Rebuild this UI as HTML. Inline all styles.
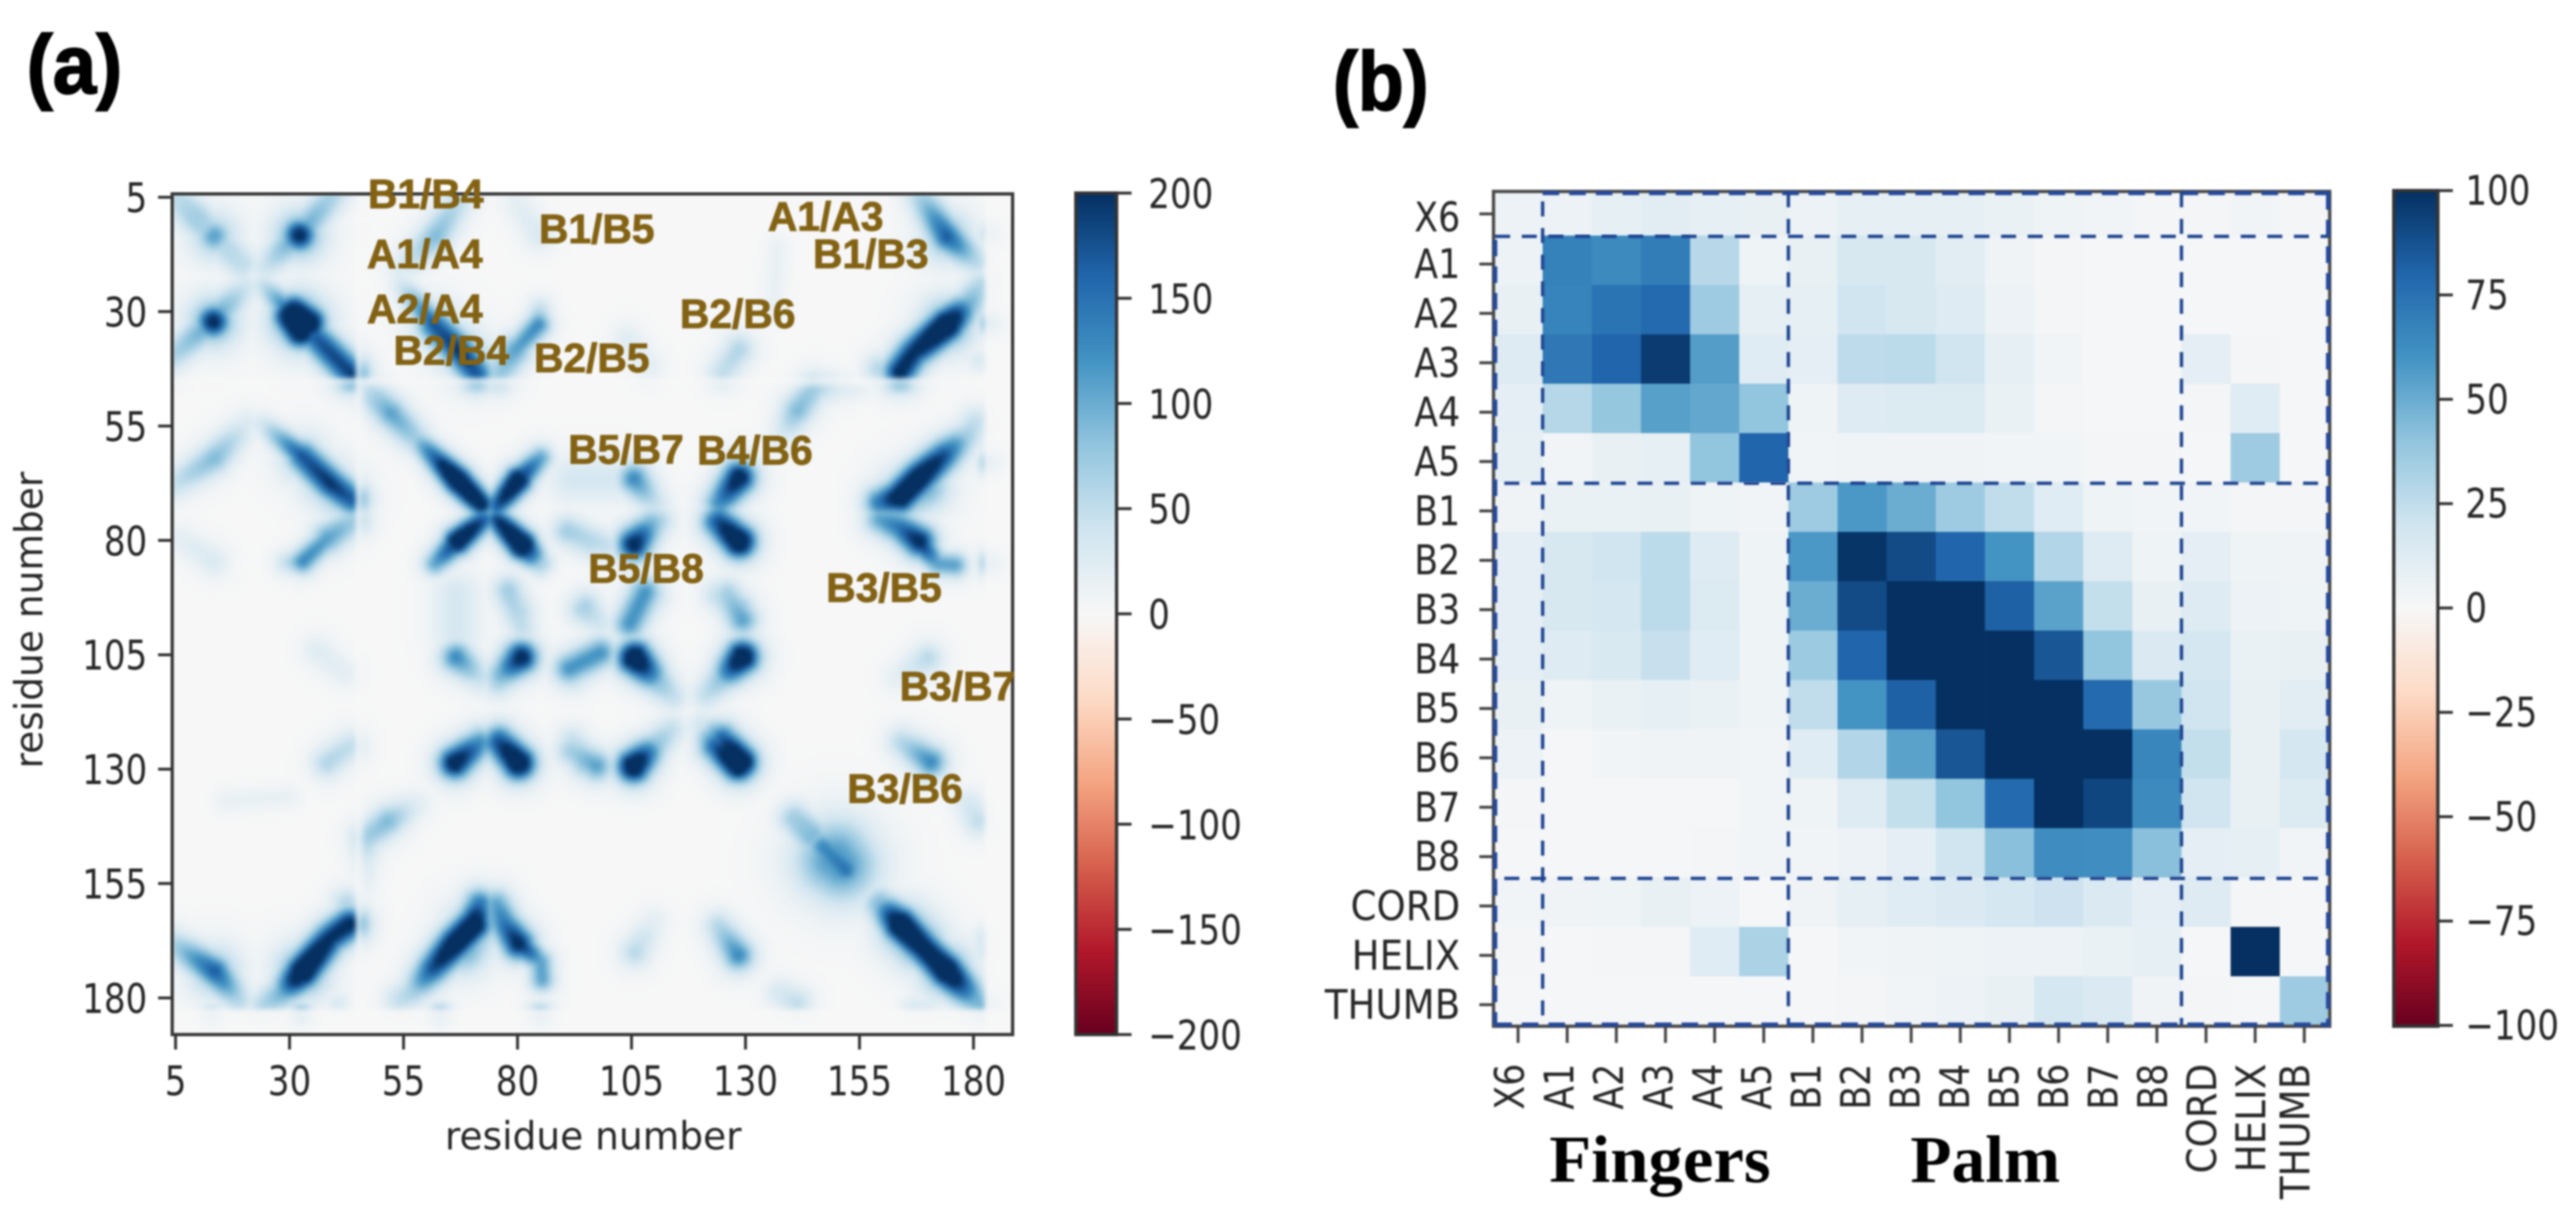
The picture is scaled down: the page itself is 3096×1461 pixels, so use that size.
<!DOCTYPE html>
<html lang="en">
<head>
<meta charset="utf-8">
<title>Residue contact maps</title>
<style>
html,body{margin:0;padding:0;background:#fff;}
#figure{position:relative;width:3096px;height:1461px;overflow:hidden;background:#fff;}
#contact-canvas{position:absolute;left:207px;top:233px;width:1010px;height:1010px;filter:blur(2px);}
#figure-svg{position:absolute;left:0;top:0;}
.soft{filter:blur(1px);}
.tick-text{font-family:"DejaVu Sans","Liberation Sans",sans-serif;font-size:41px;fill:#262626;}
.pair-text{font-family:"Liberation Sans",sans-serif;font-weight:bold;font-size:49px;fill:#836214;stroke:#836214;stroke-width:1px;}
.panel-text{font-family:"Liberation Sans",sans-serif;font-weight:bold;font-size:100px;fill:#000;stroke:#000;stroke-width:2px;}
.group-text{font-family:"Liberation Serif",serif;font-weight:bold;font-size:80px;fill:#000;}
</style>
</head>
<body>
<div id="figure">
<canvas id="contact-canvas" width="1010" height="1010"></canvas>
<svg id="figure-svg" width="3096" height="1461" viewBox="0 0 3096 1461" xmlns="http://www.w3.org/2000/svg">
<defs>
<linearGradient id="rdbu-gradient" x1="0" y1="1" x2="0" y2="0">
<stop offset="0" stop-color="#67001f"/>
<stop offset="0.1" stop-color="#b2182b"/>
<stop offset="0.2" stop-color="#d6604d"/>
<stop offset="0.3" stop-color="#f4a582"/>
<stop offset="0.4" stop-color="#fddbc7"/>
<stop offset="0.5" stop-color="#f7f7f7"/>
<stop offset="0.6" stop-color="#d1e5f0"/>
<stop offset="0.7" stop-color="#92c5de"/>
<stop offset="0.8" stop-color="#4393c3"/>
<stop offset="0.9" stop-color="#2166ac"/>
<stop offset="1" stop-color="#053061"/>
</linearGradient>
</defs>
<g id="layer-a" class="soft"></g>
<g id="layer-b-cells" class="soft"></g>
<g id="layer-b" class="soft"></g>
<text class="panel-text soft" x="32" y="112" textLength="115" lengthAdjust="spacingAndGlyphs">(a)</text>
<text class="panel-text soft" x="1602" y="132" textLength="115" lengthAdjust="spacingAndGlyphs">(b)</text>
<text class="group-text soft" x="1862" y="1420" textLength="266" lengthAdjust="spacingAndGlyphs">Fingers</text>
<text class="group-text soft" x="2296" y="1420" textLength="180" lengthAdjust="spacingAndGlyphs">Palm</text>
</svg>
</div>
<script>
/* ---------- Panel (a): residue contact features ---------- */
/* each entry: residue column A, residue row A, residue column B, residue row B, value at A, value at B */
const narrowContacts = [
  [62,62,66.7,67,170,300],[66.7,67,72,72,300,240],
  [72.5,75.5,66.8,80.2,170,300],[66.8,80.2,62,85,210,110],
  [75.5,75.5,81.3,80.8,190,300],[81.3,80.8,85.2,84.8,260,70],
  [24.3,24.3,30,30,50,160],[57.6,57.7,62,62,70,170],
  [24.3,54.7,32.9,61.7,40,180],[38.4,79.5,32.9,84.6,110,130],[32.9,84.6,29.5,84.9,130,50],
  [80.2,168.1,85.1,172,220,100],[85.1,172,85.4,176,110,110],
  [40.6,181,40.6,181,30,30],[47,146,47,156,40,15],[166.6,182,170,182,30,30],
  [16,137,30,136,15,15],
  [32.6,184,32.6,184,120,120],[63,184,63,184,100,100],[85,184,85,184,100,100],[13,184,13,184,70,70]
];
const mediumContacts = [
  [4.5,5,9,9.8,50,70],[9,9.8,19.4,20,70,50],[13.6,13.4,13.6,13.4,110,110],
  [4,40,11,34,60,100],[15,30,20,25,100,45],[13.3,32.2,13.3,32.2,220,220],
  [31,30.5,34,32.5,310,310],[34,34,38.3,38.3,160,180],[38.3,38.3,43.5,43.5,180,190],
  [46.8,47.4,52.2,52.2,50,110],[52.2,52.2,57.6,57.7,110,70],
  [32.9,61.7,38.9,67.5,170,200],[38.9,67.5,43.5,71,200,170],
  [4.4,68,13.6,62,45,90],[13.6,62,20.6,54.7,90,30],
  [44.4,75.5,38.4,79.5,70,110],[6,79.7,13.4,84.6,20,30],
  [78,91,81,99,70,50],
  [66.6,105.6,71.7,109.8,130,50],[80.8,105.6,76.6,109.3,230,100],
  [66.3,128.6,71.7,124.4,240,130],[80.2,128.6,76,123.8,290,170],
  [71.7,159.6,70.5,163.9,150,260],[70.5,163.9,66.3,168.1,270,270],[66.3,168.1,61.4,173.6,270,180],
  [61.4,173.6,57.2,178.5,180,70],[57.2,178.5,54.2,180.3,70,50],
  [75.4,159.6,77.2,163.9,110,150],[77.2,163.9,80.2,168.1,150,220],
  [43.1,163.9,38.9,166.9,220,210],[38.9,166.9,32.9,174.2,210,300],[32.9,174.2,28.3,179,300,100],
  [28.3,179,24.3,181.5,100,60],[42.5,159.5,42.5,159.5,60,60],
  [4.3,168,13.6,174.2,60,170],[13.6,174.2,18.8,180.3,170,60],
  [46.8,145,51.6,141.4,70,90],[51.6,141.4,57.7,137.8,90,25],[46.6,151,46.8,145,25,70],
  [38.3,128.6,43.2,125,60,50],[36,104,42,109,25,20],
  [105.8,67.1,110.7,71.6,100,35],[105.8,80.1,110.7,75.9,190,70],
  [128.4,66.8,124.2,71.7,220,120],[128.4,80.1,124.2,75.9,280,180],
  [92,66,98,68,25,25],[92.5,78.9,96,80.7,60,55],
  [94.5,95,98,98,65,40],[106,95.5,109.6,92,110,60],[128.5,95,124,92,90,50],[128.5,95,130,98,90,60],
  [91.4,108,98.2,104.6,120,120],[105.8,105.6,111.3,111,280,80],[111.3,111,114,114,80,50],
  [91.8,126,97.3,129.3,70,110],[105.5,129.3,110.7,124.4,280,80],[110.7,124.4,113.7,121.4,80,50],
  [128.4,128.7,123.5,125,320,170],[123.5,125,120.5,120.8,170,40],
  [105.8,170,110,163.3,55,20],[128.4,170.6,124.2,164.5,130,60],
  [140.5,140.8,144.2,145,70,90],[147,147,152,152,130,150],[137.7,179,141.3,181,35,50],
  [159.3,159.6,164.1,163.9,90,290],[164.1,163.9,168.4,168.1,290,240],[168.4,168.1,173.9,174.2,230,280],
  [173.9,174.2,180,180.3,280,100],[180,180.3,182.7,182,100,80]
];
const broadContacts = [
  [150,155,155,150,40,40],[66.6,92,66.6,100,35,35],
  [13.6,13.4,13.6,13.4,70,70],[13.3,32.2,13.3,32.2,110,110],[32,31.5,33,32.5,150,150],
  [32.9,174.2,32.9,174.2,130,130],[13.6,174.2,13.6,174.2,90,90],
  [174,174,174,174,130,130],[165,165,168,168,130,130],
  [68,169,70,165,110,110],[38,67,41,70,80,80],[33,62,33,62,70,70]
];
const diffuseContacts = [
  [149,150,151,151,115,120]
];
const contactTicks = [5,30,55,80,105,130,155,180];
const contactColorbarTicks = [200,150,100,50,0,-50,-100,-150,-200];
const pairLabels = ["B1/B4","A1/A4","A2/A4","B2/B4","B1/B5","B2/B5","B5/B7","B4/B6","B2/B6","A1/A3","B1/B3","B5/B8","B3/B5","B3/B7","B3/B6"];
const pairLabelColumns = [47.2,47,47,52.8,84.7,83.6,91.1,119.4,115.6,134.9,144.8,95.5,147.7,163.8,152.3];
const pairLabelRows = [7.4,20.5,32.5,41.6,15,43.2,63.2,63.4,33.6,12.3,20.5,89.2,93.4,115,137.3];

/* ---------- Panel (b): domain-domain matrix ---------- */
const domainLabels = ["X6","A1","A2","A3","A4","A5","B1","B2","B3","B4","B5","B6","B7","B8","CORD","HELIX","THUMB"];
const domainValues = [
  [6,6,9,11,9,8,6,9,9,9,7,5,3,2,2,3,2],
  [6,68,64,70,28,5,8,17,17,11,4,2,1,1,1,1,1],
  [8,67,74,78,36,9,9,20,17,13,6,2,1,1,1,1,1],
  [13,72,80,96,56,12,10,26,27,20,9,3,1,1,10,2,1],
  [10,29,39,55,52,40,5,13,14,14,7,2,1,1,2,12,1],
  [9,3,8,9,40,80,3,4,4,4,3,3,2,2,1,36,1],
  [4,7,7,8,5,3,36,58,50,36,25,12,5,3,3,2,2],
  [10,17,20,27,13,5,58,98,90,80,60,30,13,5,10,5,4],
  [10,17,18,27,14,5,50,90,100,100,82,54,24,8,13,6,5],
  [10,13,16,23,12,5,37,80,100,100,100,86,40,15,18,7,8],
  [8,5,7,9,7,5,25,60,82,100,100,100,78,38,20,8,11],
  [6,1,3,4,4,3,12,30,54,86,100,100,100,66,24,8,18],
  [2,1,1,1,1,3,5,13,24,40,78,100,92,64,20,8,14],
  [1,1,1,1,2,3,3,6,10,20,42,63,62,42,10,9,3],
  [3,4,5,8,6,1,4,9,12,15,18,21,15,10,13,2,1],
  [2,1,2,2,12,32,1,3,4,5,6,6,7,9,1,100,1],
  [1,1,1,1,1,1,1,2,3,6,8,18,15,4,2,1,36]
];
const domainBoundaries = [1,6,14];
const domainColorbarTicks = [100,75,50,25,0,-25,-50,-75,-100];

/* ---------- Scales ---------- */
const rdbuPalette = [[103,0,31],[178,24,43],[214,96,77],[244,165,130],[253,219,199],[247,247,247],[209,229,240],[146,197,222],[67,147,195],[33,102,172],[5,48,97]];
function rdbu(value, limit){
  let t = (Math.max(-limit, Math.min(limit, value)) + limit) / (2 * limit) * 10;
  let i = Math.min(9, Math.floor(t));
  let f = t - i;
  let a = rdbuPalette[i], b = rdbuPalette[i + 1];
  return [a[0] + (b[0] - a[0]) * f, a[1] + (b[1] - a[1]) * f, a[2] + (b[2] - a[2]) * f];
}
function contactX(r){ return 211 + (r - 5) * 5.48; }
function contactY(r){ return 237 + (r - 5) * 5.497; }
function contactBarY(v){ return 232 + (200 - v) / 400 * 1011; }
function domainColX(i){ return 1795 + 59.06 * i; }
function domainRowY(i){ return 223.7 + 59.33 * i; }
function domainBarY(v){ return 229 + (100 - v) / 200 * 1003; }

/* ---------- Panel (a) heatmap ---------- */
const gridFirst = 4, gridSize = 185;
const grid = new Float32Array(gridSize * gridSize);
function stampSegment(c1, r1, c2, r2, v1, v2, sigma){
  let reach = sigma * 5;
  let minC = Math.max(0, Math.floor(Math.min(c1, c2) - reach - gridFirst));
  let maxC = Math.min(gridSize - 1, Math.ceil(Math.max(c1, c2) + reach - gridFirst));
  let minR = Math.max(0, Math.floor(Math.min(r1, r2) - reach - gridFirst));
  let maxR = Math.min(gridSize - 1, Math.ceil(Math.max(r1, r2) + reach - gridFirst));
  let dc = c2 - c1, dr = r2 - r1, len2 = dc * dc + dr * dr;
  for (let rr = minR; rr <= maxR; rr++){
    for (let cc = minC; cc <= maxC; cc++){
      let px = cc + gridFirst, py = rr + gridFirst;
      let t = len2 > 0 ? Math.max(0, Math.min(1, ((px - c1) * dc + (py - r1) * dr) / len2)) : 0;
      let qx = c1 + dc * t, qy = r1 + dr * t;
      let d2 = (px - qx) * (px - qx) + (py - qy) * (py - qy);
      let shape = 0.8 * Math.exp(-d2 / (2 * sigma * sigma)) + 0.2 * Math.exp(-d2 / (6.5 * sigma * sigma));
      let val = (v1 + (v2 - v1) * t) * shape;
      let idx = rr * gridSize + cc;
      if (val > grid[idx]) grid[idx] = val;
    }
  }
}
function stampGroup(list, sigma){
  list.forEach(function(s){
    stampSegment(s[0], s[1], s[2], s[3], s[4], s[5], sigma);
    stampSegment(s[1], s[0], s[3], s[2], s[4], s[5], sigma);
  });
}
stampGroup(narrowContacts, 1.7);
stampGroup(mediumContacts, 2.2);
stampGroup(broadContacts, 3.4);
stampGroup(diffuseContacts, 5);
function residueDim(r){
  if (r === 45) return 0.35;
  if (r === 46) return 0.7;
  if (r >= 183) return 0.15;
  return 1;
}
const small = document.createElement('canvas');
small.width = gridSize;
small.height = gridSize;
const smallCtx = small.getContext('2d');
const smallImg = smallCtx.createImageData(gridSize, gridSize);
for (let rr = 0; rr < gridSize; rr++){
  for (let cc = 0; cc < gridSize; cc++){
    let dim = residueDim(rr + gridFirst) * residueDim(cc + gridFirst);
    let col = rdbu(grid[rr * gridSize + cc] * dim, 200);
    let o = (rr * gridSize + cc) * 4;
    smallImg.data[o] = col[0];
    smallImg.data[o + 1] = col[1];
    smallImg.data[o + 2] = col[2];
    smallImg.data[o + 3] = 255;
  }
}
smallCtx.putImageData(smallImg, 0, 0);
const contactCtx = document.getElementById('contact-canvas').getContext('2d');
contactCtx.fillStyle = '#f7f7f7';
contactCtx.fillRect(0, 0, 1010, 1010);
contactCtx.imageSmoothingEnabled = true;
contactCtx.imageSmoothingQuality = 'high';
contactCtx.drawImage(small, contactX(gridFirst - 0.5) - 207, contactY(gridFirst - 0.5) - 233, gridSize * 5.48, gridSize * 5.497);

/* ---------- SVG helpers ---------- */
const NS = 'http://www.w3.org/2000/svg';
function make(parent, tag, attrs){
  const el = document.createElementNS(NS, tag);
  for (const k in attrs) el.setAttribute(k, attrs[k]);
  parent.appendChild(el);
  return el;
}
function makeText(parent, str, x, y, anchor, rotate, sx, sy){
  const el = make(parent, 'text', {
    'class': 'tick-text',
    'text-anchor': anchor,
    transform: 'translate(' + x + ',' + y + ') rotate(' + rotate + ') scale(' + sx + ',' + sy + ')'
  });
  el.textContent = str;
  return el;
}
function formatTick(v){ return v < 0 ? '\u2212' + Math.abs(v) : String(v); }

const layerA = document.getElementById('layer-a');
const layerB = document.getElementById('layer-b');
const layerCells = document.getElementById('layer-b-cells');

/* ---------- Panel (a) axes ---------- */
const frameA = make(layerA, 'rect', {x:207, y:233, width:1010, height:1010, fill:'none', stroke:'#3a3a3a', 'stroke-width':4});


contactTicks.forEach(function(t){
  const xt = make(layerA, 'line', {x1:contactX(t), x2:contactX(t), y1:1243, y2:1261, stroke:'#333', 'stroke-width':3.5});
  
  
  const xl = makeText(layerA, String(t), contactX(t), 1316, 'middle', 0, 1, 1.2);
  
  
  const yt = make(layerA, 'line', {x1:190, x2:207, y1:contactY(t), y2:contactY(t), stroke:'#333', 'stroke-width':3.5});
  
  
  const yl = makeText(layerA, String(t), 177, contactY(t) + 18, 'end', 0, 1, 1.2);
  
  
});
const xTitle = makeText(layerA, 'residue number', 713, 1381, 'middle', 0, 1.1, 1.12);


const yTitle = makeText(layerA, 'residue number', 51, 745, 'middle', -90, 1.1, 1.12);


pairLabels.forEach(function(label, i){
  const el = make(layerA, 'text', {'class':'pair-text', x:contactX(pairLabelColumns[i]), y:contactY(pairLabelRows[i])});
  el.textContent = label;
  
  
});
const barA = make(layerA, 'rect', {x:1293, y:232, width:49, height:1011, fill:'url(#rdbu-gradient)', stroke:'#333', 'stroke-width':4});


contactColorbarTicks.forEach(function(v){
  const t = make(layerA, 'line', {x1:1342, x2:1360, y1:contactBarY(v), y2:contactBarY(v), stroke:'#333', 'stroke-width':3.5});
  
  
  const l = makeText(layerA, formatTick(v), 1380, contactBarY(v) + 18, 'start', 0, 1, 1.2);
  
  
});

/* ---------- Panel (b) heatmap ---------- */
domainValues.forEach(function(row, r){
  row.forEach(function(v, c){
    const c0 = rdbu(v, 100);
    const top = Math.max(230, domainRowY(r));
    const cell = make(layerCells, 'rect', {
      x: domainColX(c), y: top,
      width: 59.4, height: domainRowY(r + 1) - top + 0.4,
      fill: 'rgb(' + Math.round(c0[0]) + ',' + Math.round(c0[1]) + ',' + Math.round(c0[2]) + ')'
    });
    
    
  });
});
const frameB = make(layerB, 'rect', {x:1795, y:230, width:1005, height:1003, fill:'none', stroke:'#4a4a4a', 'stroke-width':4});


const edgeTop = make(layerB, 'line', {x1:1854, x2:2800, y1:232, y2:232, stroke:'#26499a', 'stroke-width':5, 'stroke-dasharray':'20 12'});


const edgeLeft = make(layerB, 'line', {x1:1797, x2:1797, y1:288, y2:1232, stroke:'#26499a', 'stroke-width':5, 'stroke-dasharray':'20 12'});


const edgeRight = make(layerB, 'line', {x1:2798, x2:2798, y1:232, y2:1232, stroke:'#26499a', 'stroke-width':5, 'stroke-dasharray':'20 12'});


const edgeBottom = make(layerB, 'line', {x1:1797, x2:2800, y1:1231, y2:1231, stroke:'#26499a', 'stroke-width':5, 'stroke-dasharray':'20 12'});


domainBoundaries.forEach(function(i){
  const v = make(layerB, 'line', {x1:domainColX(i), x2:domainColX(i), y1:(i === 1 ? 242 : 231), y2:1232, stroke:'#1f4592', 'stroke-width':4, 'stroke-dasharray':'18 14'});
  
  
  const h = make(layerB, 'line', {x1:(i === 1 ? 1797 : 1808), x2:2798, y1:domainRowY(i) + 1, y2:domainRowY(i) + 1, stroke:'#1f4592', 'stroke-width':4, 'stroke-dasharray':'18 14'});
  
  
});
domainLabels.forEach(function(label, i){
  const cx = domainColX(i) + 29.5;
  const xt = make(layerB, 'line', {x1:cx, x2:cx, y1:1233, y2:1253, stroke:'#444', 'stroke-width':3.5});
  
  
  const stretch = label.length > 2 ? 1.09 : 1.02;
  const shift = label === 'THUMB' ? 6 : 7 + Math.min(i, 13) / 13 * 5;
  const xl = makeText(layerB, label, cx + shift, 1278, 'end', -90, stretch, 1.2);
  
  
  const ty = i === 0 ? 257 : domainRowY(i) + 34.2;
  const yt = make(layerB, 'line', {x1:1778, x2:1795, y1:ty, y2:ty, stroke:'#444', 'stroke-width':3.5});
  
  
  const yl = makeText(layerB, label, 1755, ty + (i === 0 ? 21 : 17), 'end', 0, stretch, 1.2);
  
  
});
const barB = make(layerB, 'rect', {x:2877, y:229, width:53, height:1004, fill:'url(#rdbu-gradient)', stroke:'#333', 'stroke-width':4});


domainColorbarTicks.forEach(function(v){
  const t = make(layerB, 'line', {x1:2930, x2:2948, y1:domainBarY(v), y2:domainBarY(v), stroke:'#333', 'stroke-width':3.5});
  
  
  const l = makeText(layerB, formatTick(v), 2963, domainBarY(v) + 17, 'start', 0, 1, 1.2);
  
  
});
</script>
</body>
</html>
